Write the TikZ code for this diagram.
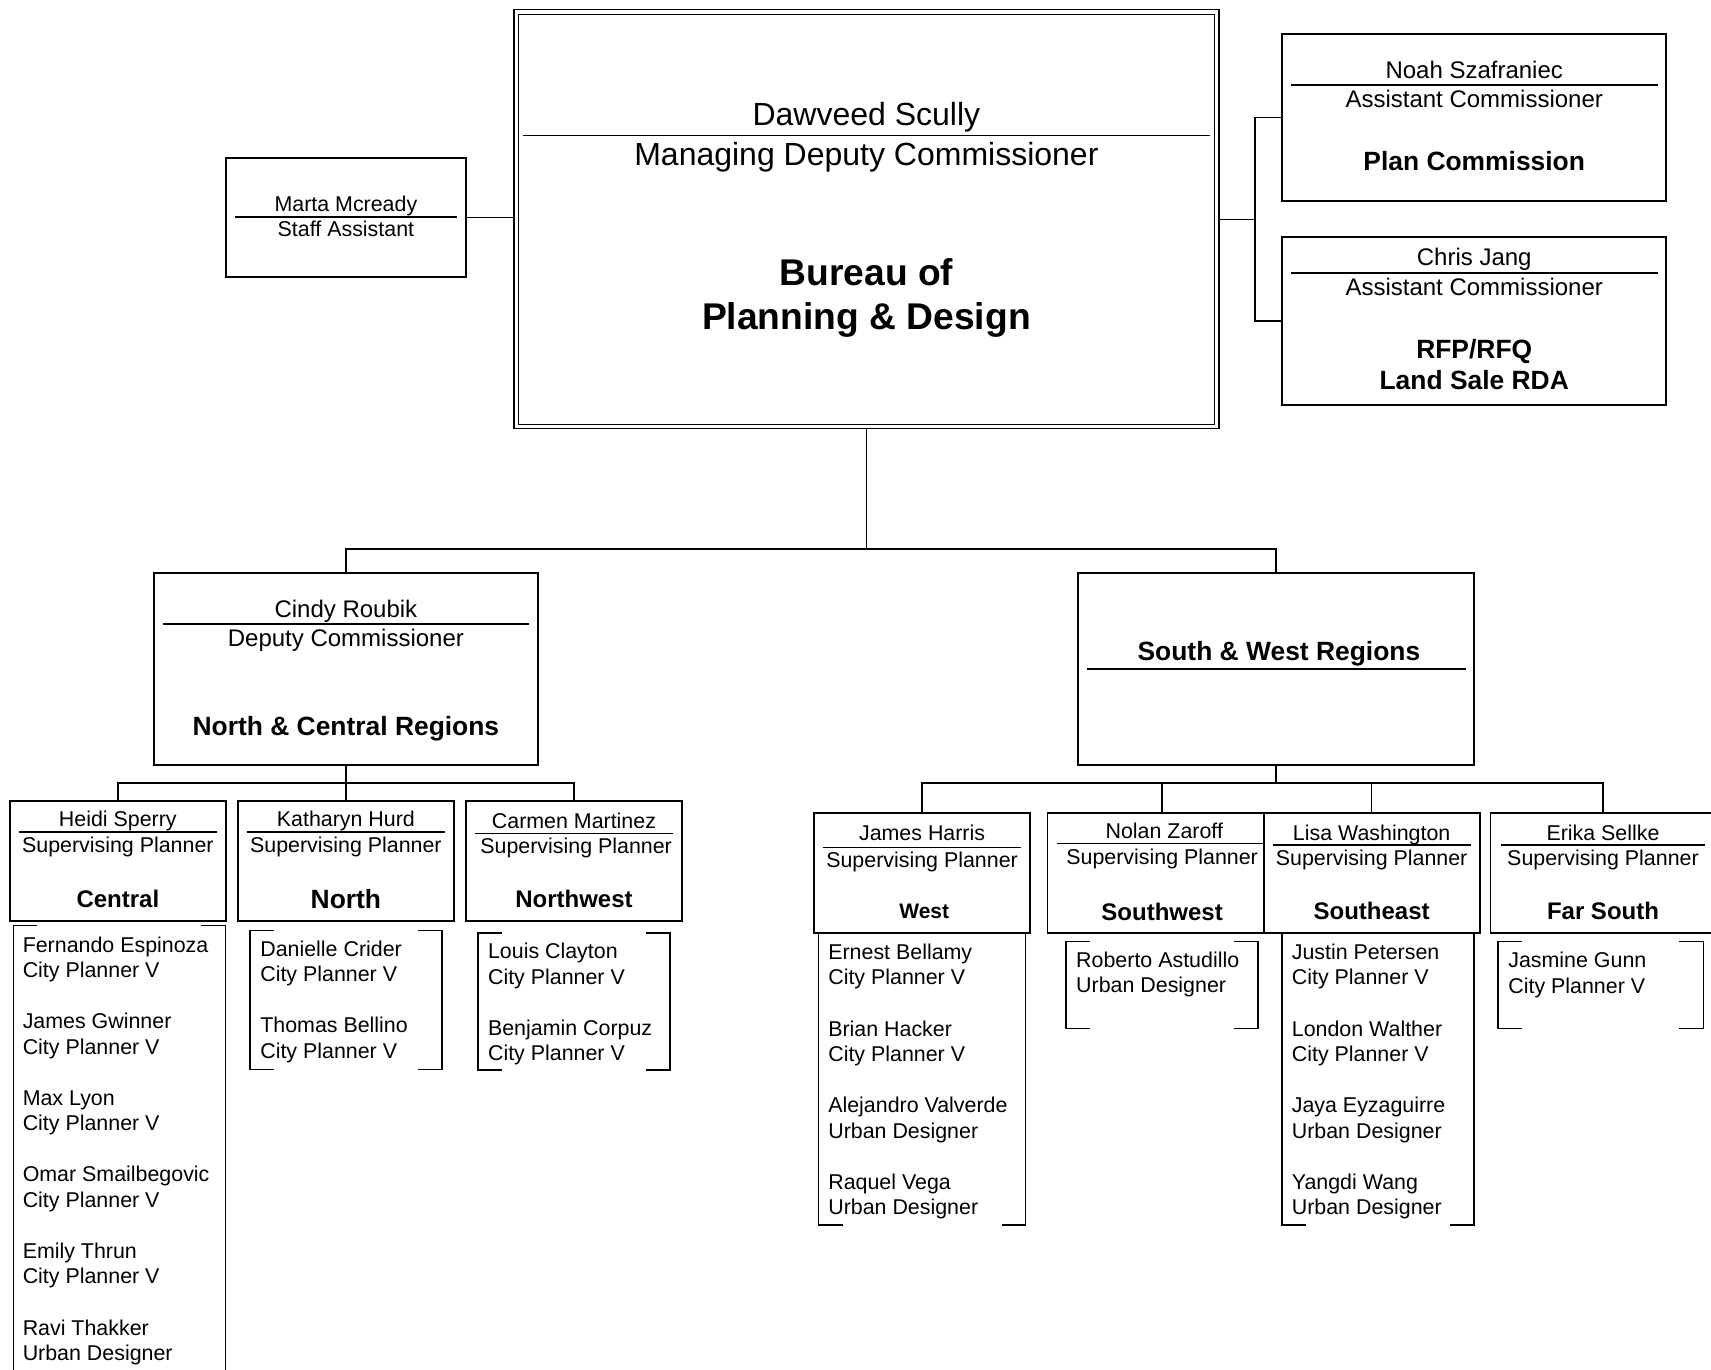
\documentclass[tikz,border=0pt]{standalone}
\usepackage{fontspec}
\setmainfont{Liberation Sans}
\usepackage{tikz}
\usetikzlibrary{positioning, calc}
\tikzstyle{orgbox} = [rectangle, draw=black, line width=0.9pt, fill=white, inner sep=0pt, outer sep=0pt]
\tikzstyle{bossbox} = [orgbox, double, double distance=1.6pt, line width=0.6pt]
\tikzstyle{supbox} = [orgbox, minimum width=108pt, minimum height=60pt]
\tikzstyle{link} = [draw=black, line width=0.8pt]
\tikzstyle{hrule} = [draw=black, line width=0.7pt]
\tikzstyle{txtS} = [inner sep=0pt, anchor=base, font=\fontsize{10.7}{12.7}\selectfont]
\tikzstyle{txtM} = [inner sep=0pt, anchor=base, font=\fontsize{12}{14}\selectfont]
\tikzstyle{txtL} = [inner sep=0pt, anchor=base, font=\fontsize{16}{19}\selectfont]
\tikzstyle{boldS} = [inner sep=0pt, anchor=base, font=\bfseries\fontsize{10.5}{12.6}\selectfont]
\tikzstyle{boldM} = [inner sep=0pt, anchor=base, font=\bfseries\fontsize{12}{14}\selectfont]
\tikzstyle{boldL} = [inner sep=0pt, anchor=base, align=center, font=\bfseries\fontsize{13.2}{15.3}\selectfont]
\tikzstyle{boldXL} = [inner sep=0pt, align=center, font=\bfseries\fontsize{18.6}{22.4}\selectfont]
\tikzstyle{names} = [inner sep=0pt, anchor=north west, align=left, font=\fontsize{10.7}{12.7}\selectfont]

\begin{document}
\begin{tikzpicture}[x=0.5456pt, y=-0.5456pt]
			\useasboundingbox (0,0) rectangle (1568,1255);
			%top row
			\node (boss) [bossbox, minimum width=350.3pt, minimum height=207.3pt] at (794,201) {};
			\node (bossname) [txtL] at (794,115.3) {Dawveed Scully};
			\draw [hrule](479,124) -- (1109,124);
			\node (bosstitle) [txtL] at (794,151.3) {Managing Deputy Commissioner};
			\node (bureau) [boldXL] at (794,273) {Bureau of\\Planning \& Design};
			
			\node (staff) [orgbox, minimum width=120pt, minimum height=59.5pt] at (317,199.5) {};
			\node (staffname) [txtS] at (317,193.9) {Marta Mcready};
			\draw [hrule](215,199) -- (419,199);
			\node (stafftitle) [txtS] at (317,216.9) {Staff Assistant};
			
			\node (noah) [orgbox, minimum width=192.1pt, minimum height=83.5pt] at (1351,107.5) {};
			\node (noahname) [txtM] at (1351,71.7) {Noah Szafraniec};
			\draw [hrule](1183,78) -- (1519,78);
			\node (noahtitle) [txtM] at (1351,98.7) {Assistant Commissioner};
			\node (noahunit) [boldL] at (1351,156.5) {Plan Commission};
			
			\node (chris) [orgbox, minimum width=192.1pt, minimum height=84pt] at (1351,294) {};
			\node (chrisname) [txtM] at (1351,243.7) {Chris Jang};
			\draw [hrule](1183,250) -- (1519,250);
			\node (christitle) [txtM] at (1351,270.7) {Assistant Commissioner};
			\node (chrisunit) [boldL, anchor=center] at (1351,334) {RFP/RFQ\\Land Sale RDA};
			
			\coordinate (rjoin) at (1150,201);
			\draw [link, shorten >=1.1pt](staff.east) -- (staff.east -| boss.west);
			\draw [link, shorten <=1.1pt](boss.east) -- (rjoin);
			\draw [link](noah.west) -| (rjoin) |- (chris.west);
			
			%deputies
			\node (cindy) [orgbox, minimum width=192.1pt, minimum height=96pt] at (317,613) {};
			\node (cindyname) [txtM] at (317,565.7) {Cindy Roubik};
			\draw [hrule](149,572) -- (485,572);
			\node (cindytitle) [txtM] at (317,592.7) {Deputy Commissioner};
			\node (cindyunit) [boldL] at (317,674) {North \& Central Regions};
			
			\node (swr) [orgbox, minimum width=198.1pt, minimum height=96pt] at (1169.5,613) {};
			\node (swrunit) [boldL] at (1172,605.5) {South \& West Regions};
			\draw [hrule](996,613) -- (1343,613);
			
			\coordinate (mjoin) at (794,503);
			\draw [link, shorten <=1.1pt](boss.south) -- (mjoin);
			\draw [link](cindy.north) |- (mjoin) -| (swr.north);
			
			%north & central
			\node (heidi) [supbox] at (108,789) {};
			\node (heidiname) [txtS] at (108,757.2) {Heidi Sperry};
			\draw [hrule](17,762.5) -- (199,762.5);
			\node (heidititle) [txtS] at (108,781.4) {Supervising Planner};
			\node (heidiunit) [boldM] at (108,832) {Central};
			
			\node (kath) [supbox] at (317,789) {};
			\node (kathname) [txtS] at (317,757.2) {Katharyn Hurd};
			\draw [hrule](226,762.5) -- (408,762.5);
			\node (kathtitle) [txtS] at (317,781.4) {Supervising Planner};
			\node (kathunit) [boldL] at (317,832.8) {North};
			
			\node (carmen) [supbox] at (526,789) {};
			\node (carmenname) [txtS] at (526,758.9) {Carmen Martinez};
			\draw [hrule](435,764) -- (617,764);
			\node (carmentitle) [txtS] at (528,782.4) {Supervising Planner};
			\node (carmenunit) [boldM] at (526,832) {Northwest};
			
			\coordinate (ljoin) at (317,717.5);
			\draw [link](cindy.south) -- (ljoin);
			\draw [link](heidi.north) |- (ljoin) -| (carmen.north);
			\draw [link](ljoin) -- (kath.north);
			
			\node (heidistaff) [names] at (20.5,858) {Fernando Espinoza\\City Planner V\\[12.9pt]James Gwinner\\City Planner V\\[12.9pt]Max Lyon\\City Planner V\\[12.9pt]Omar Smailbegovic\\City Planner V\\[12.9pt]Emily Thrun\\City Planner V\\[12.9pt]Ravi Thakker\\Urban Designer};
			\draw [hrule](34,848.4) -| (12.3,1290) (184.6,848.4) -| (206.6,1290);
			\node (kathstaff) [names] at (238.2,861.6) {Danielle Crider\\City Planner V\\[12.9pt]Thomas Bellino\\City Planner V};
			\draw [hrule](251,852.6) -| (229,980) -- ++(22,0) (383,852.6) -| (405,980) -- ++(-22,0);
			\node (carmenstaff) [names] at (446.9,864.1) {Louis Clayton\\City Planner V\\[12.9pt]Benjamin Corpuz\\City Planner V};
			\draw [hrule](460,855) -| (438,980.6) -- ++(22,0) (592,855) -| (614,980.6) -- ++(-22,0);
			
			%south & west
			\node (james) [supbox] at (845,800) {};
			\node (jamesname) [txtS] at (845,770.6) {James Harris};
			\draw [hrule](754,776.5) -- (936,776.5);
			\node (jamestitle) [txtS] at (845,794.9) {Supervising Planner};
			\node (jamesunit) [boldS] at (847,841.3) {West};
			
			\node (nolan) [supbox, minimum width=114.6pt] at (1065,800) {};
			\node (nolanname) [txtS] at (1067,768.2) {Nolan Zaroff};
			\draw [hrule](968.5,773) -- (1158,773);
			\node (nolantitle) [txtS] at (1065,791.9) {Supervising Planner};
			\node (nolanunit) [boldM] at (1065,843.2) {Southwest};
			
			\node (lisa) [supbox] at (1257,800) {};
			\node (lisaname) [txtS] at (1257,770.6) {Lisa Washington};
			\draw [hrule](1167,774.5) -- (1348,774.5);
			\node (lisatitle) [txtS] at (1257,793.5) {Supervising Planner};
			\node (lisaunit) [boldM] at (1257,842.3) {Southeast};
			
			\node (erika) [supbox, minimum width=112.4pt] at (1469,800) {};
			\node (erikaname) [txtS] at (1469,769.9) {Erika Sellke};
			\draw [hrule](1375.6,774.5) -- (1562.6,774.5);
			\node (erikatitle) [txtS] at (1469,792.9) {Supervising Planner};
			\node (erikaunit) [boldM] at (1469,842.3) {Far South};
			
			\coordinate (rsjoin) at (1169.5,717.5);
			\draw [link](swr.south) -- (rsjoin);
			\draw [link](james.north) |- (rsjoin) -| (erika.north);
			\draw [link](nolan.north) -- (nolan.north |- rsjoin);
			\draw [link](lisa.north) -- (lisa.north |- rsjoin);
			
			\node (jamesstaff) [names] at (758.7,864.7) {Ernest Bellamy\\City Planner V\\[12.9pt]Brian Hacker\\City Planner V\\[12.9pt]Alejandro Valverde\\Urban Designer\\[12.9pt]Raquel Vega\\Urban Designer};
			\draw [hrule](772.2,855.3) -| (750.2,1122.6) -- ++(22,0) (917.8,855.3) -| (939.8,1122.6) -- ++(-22,0);
			\node (nolanstaff) [names] at (985.9,871.7) {Roberto Astudillo\\Urban Designer};
			\draw [hrule](999,863) -| (977,942.7) -- ++(22,0) (1130.8,863) -| (1152.8,942.7) -- ++(-22,0);
			\node (lisastaff) [names] at (1183.5,864.7) {Justin Petersen\\City Planner V\\[12.9pt]London Walther\\City Planner V\\[12.9pt]Jaya Eyzaguirre\\Urban Designer\\[12.9pt]Yangdi Wang\\Urban Designer};
			\draw [hrule](1197,855.3) -| (1175,1122.6) -- ++(22,0) (1328.8,855.3) -| (1350.8,1122.6) -- ++(-22,0);
			\node (erikastaff) [names] at (1381.9,872.5) {Jasmine Gunn\\City Planner V};
			\draw [hrule](1394.6,863) -| (1372.6,942.7) -- ++(22,0) (1539,863) -| (1561,942.7) -- ++(-22,0);
			
		\end{tikzpicture}
\end{document}
